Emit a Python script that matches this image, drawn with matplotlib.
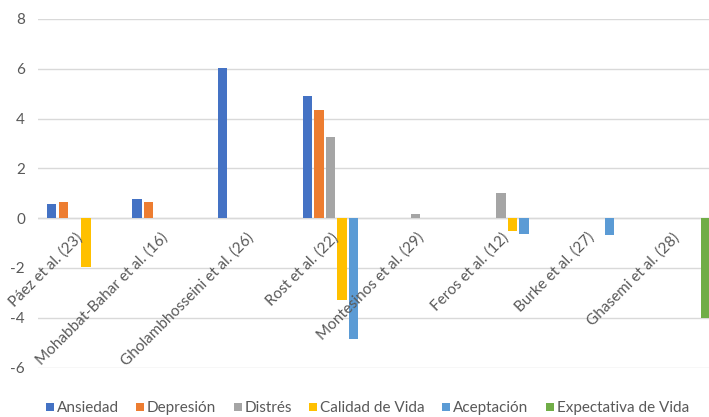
import numpy as np
import matplotlib
matplotlib.use("Agg")
import matplotlib.pyplot as plt
from matplotlib.lines import Line2D
from matplotlib.transforms import offset_copy

plt.rcParams['font.family'] = ['Lato', 'DejaVu Sans']

categories = ["Páez et al. (23)", "Mohabbat-Bahar et al. (16)", "Gholambhosseini et al. (26)",
              "Rost et al. (22)", "Montesinos et al. (29)", "Feros et al. (12)",
              "Burke et al. (27)", "Ghasemi et al. (28)"]
series_names = ["Ansiedad", "Depresión", "Distrés", "Calidad de Vida", "Aceptación", "Expectativa de Vida"]
ansiedad = [0.55, 0.78, 6.05, 4.90, 0, 0, 0, 0]
depresion = [0.64, 0.66, 0, 4.36, 0, 0, 0, 0]
distres = [0, 0, 0, 3.26, 0.16, 1.00, 0, 0]
calidad_vida = [-1.97, 0, 0, -3.27, 0, -0.53, 0, 0]
aceptacion = [0, 0, 0, -4.85, 0, -0.64, -0.68, 0]
expectativa_vida = [0, 0, 0, 0, 0, 0, 0, -4.00]
yticks = [-6, -4, -2, 0, 2, 4, 6, 8]

series = [ansiedad, depresion, distres, calidad_vida, aceptacion, expectativa_vida]
colors = ["#4472C4", "#ED7D31", "#A5A5A5", "#FFC000", "#5B9BD5", "#70AD47"]
txt = "#595959"
grid = "#D9D9D9"
fs = 11

fig = plt.figure(figsize=(7.09, 4.17), dpi=100)
ax = fig.add_axes([37.6 / 709, 49.5 / 417, 682.5 / 709, 348.5 / 417])

x = np.arange(len(categories))
slot = 0.1336
bw = 0.109
for k, (vals, c) in enumerate(zip(series, colors)):
    ax.bar(x + (k - 2.5) * slot, vals, width=bw, color=c, zorder=3, linewidth=0)

ax.set_xlim(-0.5, len(categories) - 0.5)
ax.set_ylim(-6, 8)
ax.set_yticks(yticks)
ax.set_yticklabels([str(v) for v in yticks], color=txt, fontsize=fs)
ax.tick_params(axis='y', length=0, pad=9)
ax.set_xticks([])
for s in ax.spines.values():
    s.set_visible(False)
ax.yaxis.grid(True, color=grid, linewidth=1.0, zorder=0)
ax.set_axisbelow(True)
ax.axhline(0, color=grid, linewidth=1.0, zorder=1)

tr = offset_copy(ax.transData, fig=fig, x=3, y=-20, units='dots')
for i, lab in enumerate(categories):
    ax.text(i, 0, lab, transform=tr, rotation=45, rotation_mode='anchor',
            ha='right', va='baseline', color=txt, fontsize=fs)

handles = [Line2D([], [], linestyle='none', marker='s', markersize=5.4,
                  markerfacecolor=c, markeredgewidth=0) for c in colors]
fig.legend(handles, series_names, ncol=6, loc='lower center',
           bbox_to_anchor=(367.5 / 709, 0.0), frameon=False, fontsize=fs,
           handlelength=0.5, handletextpad=0.2, columnspacing=1.15,
           labelcolor=txt, borderaxespad=0, borderpad=0.1)

fig.savefig("out.png", dpi=100)
